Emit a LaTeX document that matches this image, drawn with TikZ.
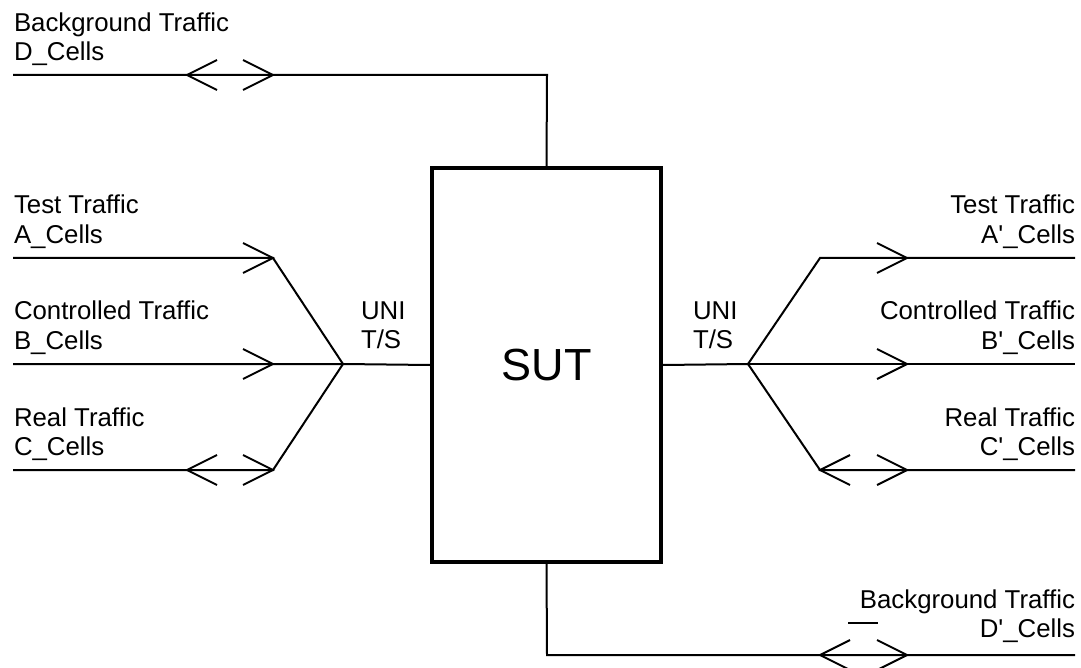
\documentclass[tikz,border=0pt]{standalone}
\usepackage{fontspec}
\setmainfont{Liberation Sans}
\begin{document}
\begin{tikzpicture}[x=0.5pt,y=-0.5pt,line width=1pt,
  lbl/.style={font=\fontsize{12.9}{14.5}\selectfont,inner sep=0pt,align=left,anchor=base west},
  rlbl/.style={font=\fontsize{12.9}{14.5}\selectfont,inner sep=0pt,align=right,anchor=base east},
  chevR/.pic={\draw (-30,-15) -- (0,0) -- (-30,15);},
  chevL/.pic={\draw (30,-15) -- (0,0) -- (30,15);},
  sutbox/.style={draw,line width=2pt,minimum width=114.5pt,minimum height=197pt,inner sep=0pt,font=\fontsize{22.5}{26}\selectfont}]
\useasboundingbox (0,0) rectangle (1081,668);
\node[sutbox] (sut) at (546.5,365) {SUT};
% coordinates
\coordinate (dS) at (13,75);
\coordinate (dT) at (547,75);
\coordinate (aS) at (13,258);
\coordinate (bS) at (13,364);
\coordinate (cS) at (13,470);
\coordinate (al) at (273,258);
\coordinate (cl) at (273,470);
\coordinate (jl) at (343,364);
\coordinate (jr) at (748,364);
\coordinate (ar) at (820,258);
\coordinate (cr) at (820,470);
\coordinate (aE) at (1075,258);
\coordinate (bE) at (1075,364);
\coordinate (cE) at (1075,470);
\coordinate (dB) at (547,655);
\coordinate (dE) at (1075,655);
\coordinate (ovA) at (848,623);
\coordinate (ovB) at (878,623);
% connectors
\draw (dS) -- (dT) -- (sut.north);
\draw (aS) -- (al) -- (jl);
\draw (bS) -- (jl) -- (sut.west);
\draw (cS) -- (cl) -- (jl);
\draw (sut.east) -- (jr) -- (ar) -- (aE);
\draw (jr) -- (bE);
\draw (jr) -- (cr) -- (cE);
\draw (sut.south) -- (dB) -- (dE);
\draw (ovA) -- (ovB);
% chevrons
\pic at (187,75) {chevL};
\pic at (273,75) {chevR};
\pic at (273,258) {chevR};
\pic at (273,364) {chevR};
\pic at (187,470) {chevL};
\pic at (273,470) {chevR};
\pic at (907,258) {chevR};
\pic at (907,364) {chevR};
\pic at (820,470) {chevL};
\pic at (907,470) {chevR};
\pic at (820,655) {chevL};
\pic at (907,655) {chevR};
% labels (anchor = baseline of last line)
\node[lbl] (ld) at (13,61) {Background Traffic\\D\_Cells};
\node[lbl] (la) at (13,243) {Test Traffic\\A\_Cells};
\node[lbl] (lb) at (13,349) {Controlled Traffic\\B\_Cells};
\node[lbl] (lc) at (13,455) {Real Traffic\\C\_Cells};
\node[lbl] (lu) at (360,348) {UNI\\T/S};
\node[lbl] (ru) at (692,348) {UNI\\T/S};
\node[rlbl] (ra) at (1076,243) {Test Traffic\\A\textquotesingle\_Cells};
\node[rlbl] (rb) at (1076,349) {Controlled Traffic\\B\textquotesingle\_Cells};
\node[rlbl] (rc) at (1076,455) {Real Traffic\\C\textquotesingle\_Cells};
\node[rlbl] (rd) at (1076,637) {Background Traffic\\D\textquotesingle\_Cells};
\end{tikzpicture}
\end{document}
